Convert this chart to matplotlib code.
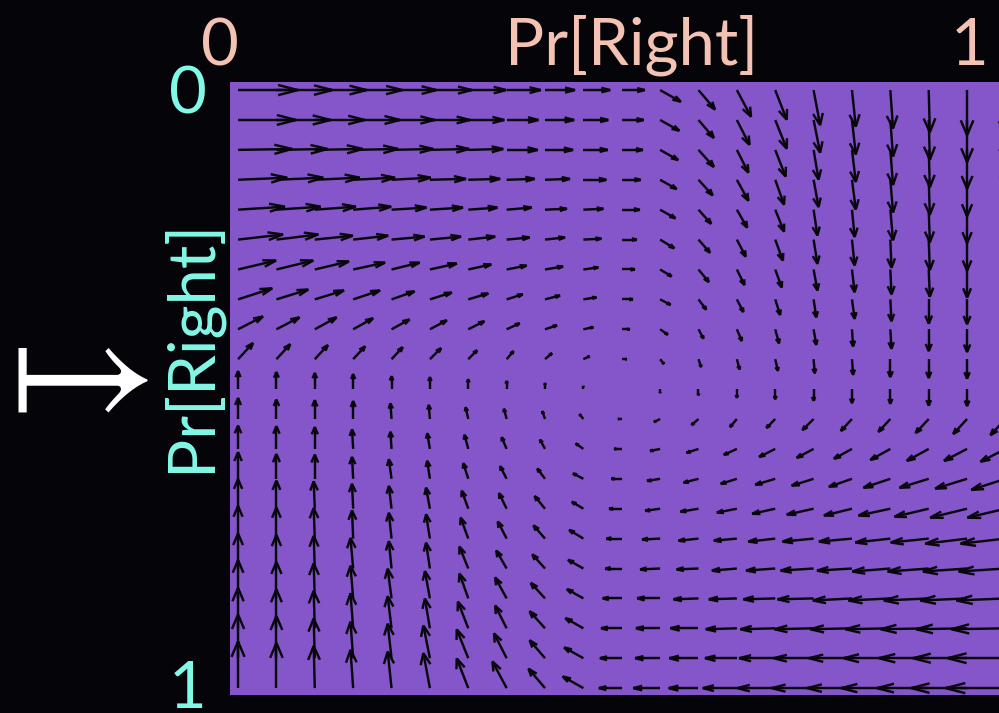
import numpy as np
import matplotlib
matplotlib.use("Agg")
import matplotlib.pyplot as plt
from matplotlib.collections import LineCollection

# Vector field on a 21 x 21 grid (columns = Pr[Right] of the row player,
# rows = Pr[Right] of the column player, row 0 at the top).
# U: horizontal component (grid steps, + to the right)
# V: vertical component (grid steps, + upward)
U_ROWS = [
    [1.56, 1.46, 1.35, 1.28, 1.17, 1.09, 0.99, 0.89, 0.78, 0.70, 0.60, 0.54, 0.43, 0.37, 0.30, 0.17, 0.10, 0.07, 0.03, 0.00, 0.00],
    [1.51, 1.41, 1.30, 1.22, 1.12, 1.04, 0.94, 0.83, 0.76, 0.65, 0.57, 0.50, 0.40, 0.33, 0.30, 0.17, 0.10, 0.07, 0.03, 0.00, 0.00],
    [1.41, 1.33, 1.25, 1.17, 1.09, 1.02, 0.91, 0.81, 0.73, 0.63, 0.55, 0.47, 0.40, 0.30, 0.27, 0.13, 0.10, 0.07, 0.03, 0.00, 0.00],
    [1.28, 1.22, 1.17, 1.09, 1.02, 0.94, 0.83, 0.73, 0.65, 0.60, 0.49, 0.43, 0.37, 0.30, 0.23, 0.13, 0.10, 0.07, 0.03, 0.00, 0.00],
    [1.22, 1.15, 1.07, 0.99, 0.91, 0.86, 0.76, 0.65, 0.57, 0.52, 0.47, 0.40, 0.33, 0.27, 0.23, 0.10, 0.07, 0.07, 0.03, 0.00, 0.00],
    [1.17, 1.09, 0.99, 0.91, 0.86, 0.81, 0.70, 0.60, 0.52, 0.47, 0.39, 0.37, 0.30, 0.23, 0.20, 0.10, 0.07, 0.03, 0.03, 0.00, 0.00],
    [0.99, 0.96, 0.89, 0.83, 0.73, 0.70, 0.60, 0.52, 0.47, 0.39, 0.34, 0.30, 0.27, 0.20, 0.17, 0.10, 0.07, 0.03, 0.03, 0.00, 0.00],
    [0.89, 0.83, 0.76, 0.70, 0.60, 0.57, 0.52, 0.42, 0.39, 0.34, 0.29, 0.27, 0.20, 0.17, 0.13, 0.07, 0.07, 0.03, 0.00, 0.00, 0.00],
    [0.65, 0.60, 0.57, 0.52, 0.47, 0.44, 0.42, 0.34, 0.31, 0.26, 0.21, 0.20, 0.13, 0.13, 0.10, 0.07, 0.03, 0.03, 0.00, 0.00, 0.00],
    [0.39, 0.36, 0.34, 0.31, 0.29, 0.29, 0.23, 0.18, 0.18, 0.16, 0.13, 0.10, 0.07, 0.07, 0.07, 0.03, 0.03, 0.00, 0.00, 0.00, 0.00],
    [0.00, 0.00, 0.00, 0.00, 0.00, 0.00, 0.00, 0.00, 0.00, 0.00, 0.00, 0.00, 0.00, 0.00, 0.00, 0.00, 0.00, 0.00, 0.00, 0.00, 0.00],
    [0.00, 0.00, 0.00, 0.00, -0.03, -0.03, -0.07, -0.07, -0.07, -0.10, -0.10, -0.16, -0.18, -0.18, -0.23, -0.29, -0.29, -0.31, -0.34, -0.36, -0.39],
    [0.00, 0.00, 0.00, -0.03, -0.03, -0.07, -0.10, -0.13, -0.13, -0.20, -0.20, -0.26, -0.31, -0.34, -0.42, -0.44, -0.47, -0.52, -0.57, -0.60, -0.65],
    [0.00, 0.00, 0.00, -0.03, -0.07, -0.07, -0.13, -0.17, -0.20, -0.27, -0.27, -0.34, -0.39, -0.42, -0.52, -0.57, -0.60, -0.70, -0.76, -0.83, -0.89],
    [0.00, 0.00, -0.03, -0.03, -0.07, -0.10, -0.17, -0.20, -0.27, -0.30, -0.33, -0.39, -0.47, -0.52, -0.60, -0.70, -0.73, -0.83, -0.89, -0.96, -0.99],
    [0.00, 0.00, -0.03, -0.03, -0.07, -0.10, -0.20, -0.23, -0.30, -0.37, -0.40, -0.47, -0.52, -0.60, -0.70, -0.81, -0.86, -0.91, -0.99, -1.09, -1.17],
    [0.00, 0.00, -0.03, -0.07, -0.07, -0.10, -0.23, -0.27, -0.33, -0.40, -0.43, -0.52, -0.57, -0.65, -0.76, -0.86, -0.91, -0.99, -1.07, -1.15, -1.22],
    [0.00, 0.00, -0.03, -0.07, -0.10, -0.13, -0.23, -0.30, -0.37, -0.43, -0.50, -0.60, -0.65, -0.73, -0.83, -0.94, -1.02, -1.09, -1.17, -1.22, -1.28],
    [0.00, 0.00, -0.03, -0.07, -0.10, -0.13, -0.27, -0.30, -0.40, -0.47, -0.54, -0.63, -0.73, -0.81, -0.91, -1.02, -1.09, -1.17, -1.25, -1.33, -1.41],
    [0.00, 0.00, -0.03, -0.07, -0.10, -0.17, -0.30, -0.33, -0.40, -0.50, -0.57, -0.65, -0.76, -0.83, -0.94, -1.04, -1.12, -1.22, -1.30, -1.41, -1.51],
    [0.00, 0.00, -0.03, -0.07, -0.10, -0.17, -0.30, -0.37, -0.43, -0.54, -0.60, -0.70, -0.78, -0.89, -0.99, -1.09, -1.17, -1.28, -1.35, -1.46, -1.56],
]
V_ROWS = [
    [0.00, 0.00, 0.00, 0.00, 0.00, 0.00, 0.00, 0.00, 0.00, 0.00, 0.00, -0.39, -0.65, -0.89, -0.99, -1.17, -1.22, -1.28, -1.41, -1.51, -1.56],
    [0.00, 0.00, 0.00, 0.00, 0.00, 0.00, 0.00, 0.00, 0.00, 0.00, 0.00, -0.36, -0.60, -0.83, -0.96, -1.09, -1.15, -1.22, -1.33, -1.41, -1.46],
    [0.03, 0.03, 0.03, 0.03, 0.03, 0.03, 0.03, 0.00, 0.00, 0.00, 0.00, -0.34, -0.57, -0.76, -0.89, -0.99, -1.07, -1.17, -1.25, -1.30, -1.35],
    [0.07, 0.07, 0.07, 0.07, 0.07, 0.03, 0.03, 0.03, 0.03, 0.00, 0.00, -0.31, -0.52, -0.70, -0.83, -0.91, -0.99, -1.09, -1.17, -1.22, -1.28],
    [0.10, 0.10, 0.10, 0.10, 0.07, 0.07, 0.07, 0.07, 0.03, 0.03, 0.00, -0.29, -0.47, -0.60, -0.73, -0.86, -0.91, -1.02, -1.09, -1.12, -1.17],
    [0.17, 0.17, 0.13, 0.13, 0.10, 0.10, 0.10, 0.07, 0.07, 0.03, 0.00, -0.29, -0.44, -0.57, -0.70, -0.81, -0.86, -0.94, -1.02, -1.04, -1.09],
    [0.30, 0.30, 0.27, 0.23, 0.23, 0.20, 0.17, 0.13, 0.10, 0.07, 0.00, -0.23, -0.42, -0.52, -0.60, -0.70, -0.76, -0.83, -0.91, -0.94, -0.99],
    [0.37, 0.33, 0.30, 0.30, 0.27, 0.23, 0.20, 0.17, 0.13, 0.07, 0.00, -0.18, -0.34, -0.42, -0.52, -0.60, -0.65, -0.73, -0.81, -0.83, -0.89],
    [0.43, 0.40, 0.40, 0.37, 0.33, 0.30, 0.27, 0.20, 0.13, 0.07, 0.00, -0.18, -0.31, -0.39, -0.47, -0.52, -0.57, -0.65, -0.73, -0.76, -0.78],
    [0.54, 0.50, 0.47, 0.43, 0.40, 0.37, 0.30, 0.27, 0.20, 0.10, 0.00, -0.16, -0.26, -0.34, -0.39, -0.47, -0.52, -0.60, -0.63, -0.65, -0.70],
    [0.60, 0.57, 0.54, 0.50, 0.43, 0.40, 0.33, 0.27, 0.20, 0.10, 0.00, -0.13, -0.21, -0.29, -0.34, -0.39, -0.47, -0.49, -0.55, -0.57, -0.60],
    [0.70, 0.65, 0.63, 0.60, 0.52, 0.47, 0.39, 0.34, 0.26, 0.16, 0.00, -0.10, -0.20, -0.27, -0.30, -0.37, -0.40, -0.43, -0.47, -0.50, -0.54],
    [0.78, 0.76, 0.73, 0.65, 0.57, 0.52, 0.47, 0.39, 0.31, 0.18, 0.00, -0.07, -0.13, -0.20, -0.27, -0.30, -0.33, -0.37, -0.40, -0.40, -0.43],
    [0.89, 0.83, 0.81, 0.73, 0.65, 0.60, 0.52, 0.42, 0.34, 0.18, 0.00, -0.07, -0.13, -0.17, -0.20, -0.23, -0.27, -0.30, -0.30, -0.33, -0.37],
    [0.99, 0.94, 0.91, 0.83, 0.76, 0.70, 0.60, 0.52, 0.42, 0.23, 0.00, -0.07, -0.10, -0.13, -0.17, -0.20, -0.23, -0.23, -0.27, -0.30, -0.30],
    [1.09, 1.04, 1.02, 0.94, 0.86, 0.81, 0.70, 0.57, 0.44, 0.29, 0.00, -0.03, -0.07, -0.07, -0.10, -0.10, -0.10, -0.13, -0.13, -0.17, -0.17],
    [1.17, 1.12, 1.09, 1.02, 0.91, 0.86, 0.73, 0.60, 0.47, 0.29, 0.00, -0.03, -0.03, -0.07, -0.07, -0.07, -0.07, -0.10, -0.10, -0.10, -0.10],
    [1.28, 1.22, 1.17, 1.09, 0.99, 0.91, 0.83, 0.70, 0.52, 0.31, 0.00, 0.00, -0.03, -0.03, -0.03, -0.03, -0.07, -0.07, -0.07, -0.07, -0.07],
    [1.35, 1.30, 1.25, 1.17, 1.07, 0.99, 0.89, 0.76, 0.57, 0.34, 0.00, 0.00, 0.00, -0.03, -0.03, -0.03, -0.03, -0.03, -0.03, -0.03, -0.03],
    [1.46, 1.41, 1.33, 1.22, 1.15, 1.09, 0.96, 0.83, 0.60, 0.36, 0.00, 0.00, 0.00, 0.00, 0.00, 0.00, 0.00, 0.00, 0.00, 0.00, 0.00],
    [1.56, 1.51, 1.41, 1.28, 1.22, 1.17, 0.99, 0.89, 0.65, 0.39, 0.00, 0.00, 0.00, 0.00, 0.00, 0.00, 0.00, 0.00, 0.00, 0.00, 0.00],
]

AXIS_TITLE = "Pr[Right]"
TICK_LABELS = ["0", "1"]

BG = "#050409"
FIELD = "#8556c9"
SALMON = "#f3c2b3"
CYAN = "#82f8e7"

plt.rcParams["mathtext.fontset"] = "stix"

W, H = 999, 713
fig = plt.figure(figsize=(W / 100, H / 100), dpi=100, facecolor=BG)


def fx(px):
    return px / W


def fy(py):
    return 1 - py / H


# plotting area (extends slightly past the right edge of the canvas)
ax = fig.add_axes([fx(230), fy(695), 783.5 / W, 613 / H])
ax.set_facecolor(FIELD)
for s in ax.spines.values():
    s.set_visible(False)
ax.set_xticks([])
ax.set_yticks([])
ax.set_xlim(-0.21, 20.21)
ax.set_ylim(20.23, -0.27)

U = np.array(U_ROWS)
V = np.array(V_ROWS)
n_rows, n_cols = U.shape
X, Y = np.meshgrid(np.arange(n_cols), np.arange(n_rows))
du = U
dv = -V  # row index grows downward

# arrows with two-stroke heads whose size follows the arrow length
alpha, beta = 0.33, 0.33
tx, ty = X + du, Y + dv
h1x = tx - alpha * (du + beta * dv)
h1y = ty - alpha * (dv - beta * du)
h2x = tx - alpha * (du - beta * dv)
h2y = ty - alpha * (dv + beta * du)

segs = []
mag = np.hypot(du, dv)
for r in range(n_rows):
    for c in range(n_cols):
        if mag[r, c] < 1e-6:
            continue
        segs.append([(X[r, c], Y[r, c]), (tx[r, c], ty[r, c])])
        segs.append([(h1x[r, c], h1y[r, c]), (tx[r, c], ty[r, c]), (h2x[r, c], h2y[r, c])])

lc = LineCollection(segs, colors="#08070c", linewidths=1.75, capstyle="butt",
                    joinstyle="miter")
ax.add_collection(lc)

# labels
FONT = ["Lato", "DejaVu Sans"]
FS = 47
fig.text(fx(220), fy(65), TICK_LABELS[0], color=SALMON, fontsize=FS, family=FONT,
         ha="center", va="baseline")
fig.text(fx(632), fy(65), AXIS_TITLE, color=SALMON, fontsize=FS, family=FONT,
         ha="center", va="baseline")
fig.text(fx(970), fy(65), TICK_LABELS[1], color=SALMON, fontsize=FS, family=FONT,
         ha="center", va="baseline")

fig.text(fx(188), fy(113), TICK_LABELS[0], color=CYAN, fontsize=FS, family=FONT,
         ha="center", va="baseline")
fig.text(fx(188), fy(708), TICK_LABELS[1], color=CYAN, fontsize=FS, family=FONT,
         ha="center", va="baseline")
fig.text(fx(190), fy(345), AXIS_TITLE, color=CYAN, fontsize=FS, family=FONT,
         ha="center", va="center", rotation=90)

fig.text(fx(66), fy(375), r"$\mapsto$", color="white", fontsize=118,
         ha="center", va="center")

fig.savefig("out.png", dpi=100, facecolor=BG)
